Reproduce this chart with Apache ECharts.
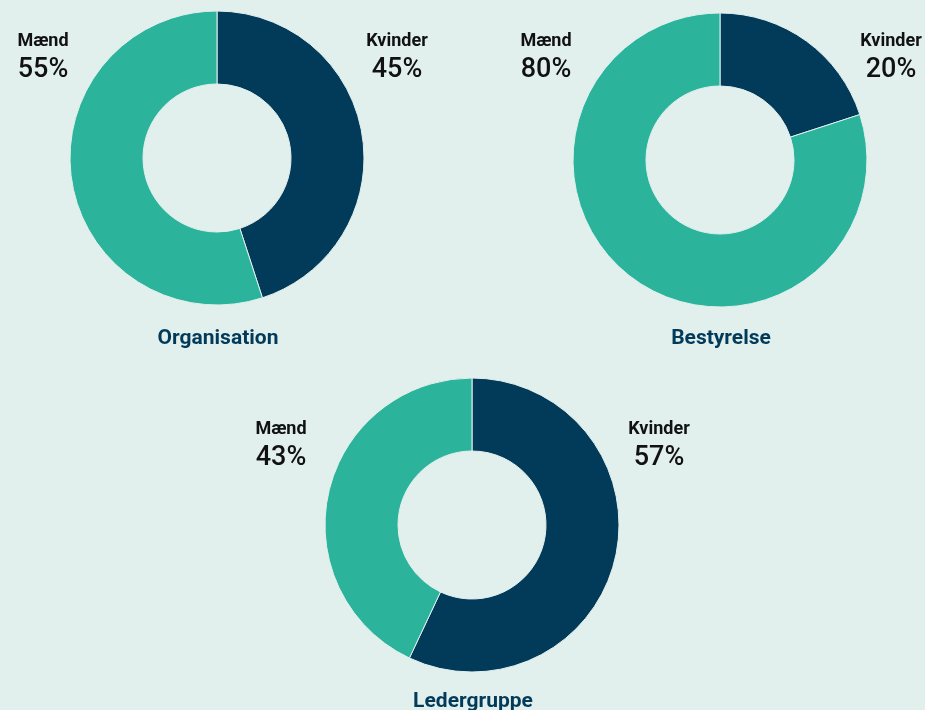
<!DOCTYPE html>
<html>
<head>
<meta charset="utf-8">
<script src="https://cdn.jsdelivr.net/npm/echarts@6/dist/echarts.min.js"></script>
<style>
  html, body { margin: 0; padding: 0; background: #e2f0ed; }
  #chart { width: 925px; height: 710px; }
</style>
</head>
<body>
<div id="chart"></div>
<script>
// data
const groups = ['Organisation', 'Bestyrelse', 'Ledergruppe']
const kvinder = [45, 20, 57]
const maend = [55, 80, 43]
const labelKvinder = 'Kvinder'
const labelMaend = 'Mænd'

const navy = '#023a5a'
const teal = '#2bb39b'
const bg = '#e2f0ed'

// layout per donut: center, label x for left/right text, label y, title y
const layout = [
  { cx: 217, cy: 158, left: 43, right: 397, labelY: 41, titleY: 339 },
  { cx: 720, cy: 160, left: 546, right: 891, labelY: 41, titleY: 339 },
  { cx: 472, cy: 525, left: 281, right: 659, labelY: 429, titleY: 702 }
]

const chart = echarts.init(document.getElementById('chart'))

const series = groups.map((name, i) => ({
  name,
  type: 'pie',
  center: [layout[i].cx, layout[i].cy],
  radius: [74, 147],
  startAngle: 90,
  clockwise: true,
  silent: true,
  label: { show: false },
  labelLine: { show: false },
  itemStyle: { borderColor: bg, borderWidth: 1 },
  data: [
    { name: labelKvinder, value: kvinder[i], itemStyle: { color: navy } },
    { name: labelMaend, value: maend[i], itemStyle: { color: teal } }
  ]
}))

const graphics = []
groups.forEach((name, i) => {
  const l = layout[i]
  const pairs = [
    [l.left, labelMaend, maend[i]],
    [l.right, labelKvinder, kvinder[i]]
  ]
  pairs.forEach(([x, lab, val]) => {
    graphics.push({
      type: 'text', x, y: l.labelY,
      style: { text: lab, fill: '#111', font: 'bold 18px Roboto', textAlign: 'center', textVerticalAlign: 'middle' }
    })
    graphics.push({
      type: 'text', x, y: l.labelY + 29,
      style: { text: val + '%', fill: '#111', font: '500 27px Roboto', textAlign: 'center', textVerticalAlign: 'middle' }
    })
  })
  graphics.push({
    type: 'text', x: l.cx + 1, y: l.titleY,
    style: { text: name, fill: navy, font: 'bold 21px Roboto', textAlign: 'center', textVerticalAlign: 'middle' }
  })
})

chart.setOption({
  backgroundColor: bg,
  animation: false,
  series,
  graphic: graphics
})
</script>
</body>
</html>
